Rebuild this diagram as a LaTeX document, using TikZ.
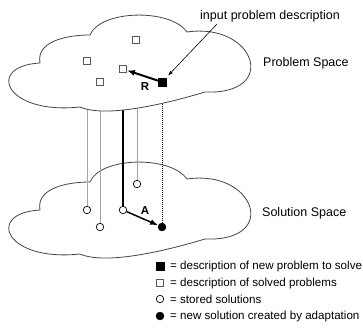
\documentclass[tikz,border=0pt]{standalone}
\usepackage{fontspec}
\setmainfont{Liberation Sans}
\usetikzlibrary{arrows.meta}
\definecolor{cloudedge}{RGB}{70,70,70}
\definecolor{tiegray}{RGB}{165,165,165}
\definecolor{boxedge}{RGB}{90,90,90}
\begin{document}
\begin{tikzpicture}[x=1pt,y=-1pt,
  cloudline/.style={draw=cloudedge, line width=0.8pt, fill=white},
  pics/cloud/.style={code={
    \path[cloudline] (40,63) .. controls (36,42) and (65,35) .. (90,35)
      .. controls (100,10) and (170,8) .. (187,32)
      .. controls (255,22) and (280,95) .. (205,92)
      .. controls (185,98) and (110,120) .. (80,107)
      .. controls (5,115) and (-15,66) .. (40,63) -- cycle;}},
  probbox/.style={draw=boxedge, line width=0.8pt, fill=white, minimum size=7pt, inner sep=0pt},
  newbox/.style={draw=black, fill=black, minimum size=8pt, inner sep=0pt},
  stored/.style={circle, draw=black, line width=0.7pt, fill=white, minimum size=7.5pt, inner sep=0pt},
  newsol/.style={circle, draw=black, fill=black, minimum size=8pt, inner sep=0pt},
  tieline/.style={draw=tiegray, line width=1pt},
  thickline/.style={draw=black, line width=2.5pt},
  dotline/.style={draw=black, line width=0.7pt, dash pattern=on 1pt off 1pt},
  rarrow/.style={draw=black, line width=2pt, -{Latex[length=8pt,width=6pt]}},
  aarrow/.style={draw=black, line width=1.5pt, -{Latex[length=8pt,width=6pt]}},
  leader/.style={draw=black, line width=0.6pt, -{Latex[length=5pt,width=3.5pt]}, shorten >=3pt},
  spacetxt/.style={anchor=west, inner sep=0pt, font=\fontsize{12.5}{14}\selectfont},
  legendtxt/.style={anchor=west, inner sep=0pt, font=\fontsize{11.6}{13}\selectfont},
  boldtxt/.style={inner sep=0pt, font=\fontsize{11.5}{13}\selectfont\bfseries}]
\useasboundingbox (0,0) rectangle (363,327);

% solution space
\pic at (0,147) {cloud};

% stored solutions and the adapted one
\node[stored] (s1) at (87,210) {};
\node[stored] (s2) at (100,227) {};
\node[stored] (s3) at (123,210) {};
\node[stored] (s4) at (137,184) {};
\node[newsol] (s5) at (162,227) {};

% links up into the problem space
\coordinate (t1) at (87,90);
\coordinate (t2) at (100,90);
\coordinate (t3) at (123,90);
\coordinate (t4) at (137,90);
\coordinate (t5) at (162,90);
\draw[tieline] (s1) -- (t1);
\draw[tieline] (s2) -- (t2);
\draw[tieline] (s4) -- (t4);
\draw[thickline] (s3) -- (t3);
\draw[dotline] (s5) -- (t5);

% problem space
\pic at (0,0) {cloud};

% solved problems and the new one
\node[probbox] (p1) at (136,40) {};
\node[probbox] (p2) at (87,61) {};
\node[probbox] (p3) at (123,69) {};
\node[probbox] (p4) at (100,82) {};
\node[newbox] (np) at (162,82) {};

% retrieval and adaptation
\draw[rarrow] (np) -- (p3);
\node[boldtxt] (rlab) at (145,87) {R};
\draw[aarrow] (s3) -- (s5);
\node[boldtxt] (alab) at (145,211) {A};

% labels
\node[spacetxt] (inp) at (200,16) {input problem description};
\coordinate (lead) at (217,24);
\draw[leader] (lead) -- (np);
\node[spacetxt] (ps) at (263,63) {Problem Space};
\node[spacetxt] (ss) at (262,213) {Solution Space};

% legend
\node[newbox] (k1) at (160,266) {};
\node[probbox] (k2) at (160,283) {};
\node[stored] (k3) at (160,299) {};
\node[newsol] (k4) at (160,316) {};
\node[legendtxt] (k1t) at (170,266) {= description of new problem to solve};
\node[legendtxt] (k2t) at (170,283) {= description of solved problems};
\node[legendtxt] (k3t) at (170,299) {= stored solutions};
\node[legendtxt] (k4t) at (170,316) {= new solution created by adaptation};
\end{tikzpicture}
\end{document}
